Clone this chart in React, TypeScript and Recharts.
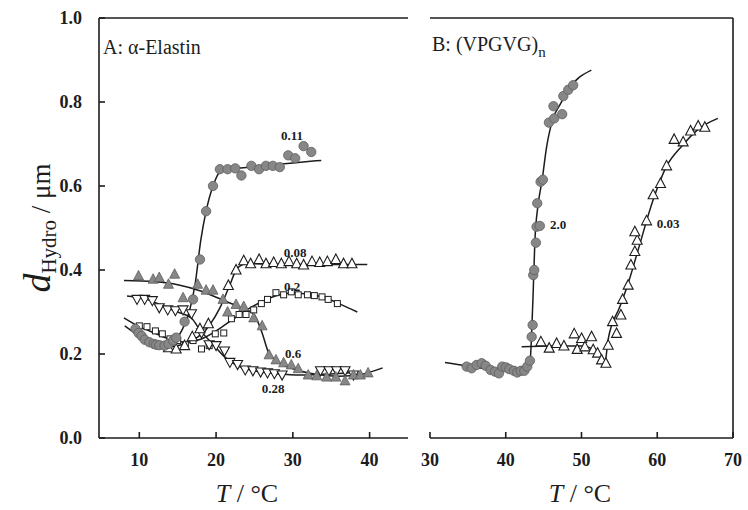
import { ScatterChart, Scatter, XAxis, YAxis } from "recharts";

type P = [number, number];

// Panel A: alpha-elastin, T (°C) vs d_Hydro (µm)
const circ011: P[] = [
  [9.5, 0.26], [9.9, 0.25], [10.3, 0.243], [10.7, 0.234], [11.3, 0.228], [11.9, 0.224],
  [12.2, 0.222], [12.6, 0.221], [13.3, 0.22], [13.8, 0.224], [14.4, 0.232], [14.8, 0.239],
  [15.9, 0.277], [17.0, 0.33], [17.9, 0.425], [18.7, 0.54], [19.6, 0.6], [20.5, 0.64],
  [21.5, 0.64], [22.5, 0.642], [23.3, 0.625], [24.6, 0.648], [25.6, 0.64], [26.5, 0.648],
  [27.4, 0.648], [28.3, 0.645], [29.4, 0.673], [30.3, 0.666], [31.4, 0.695], [32.4, 0.681],
];
const fit011: P[] = [
  [8.1, 0.267], [10, 0.243], [12.5, 0.22], [14.3, 0.225], [15.5, 0.255], [16.5, 0.3],
  [17.3, 0.37], [18.0, 0.47], [18.7, 0.54], [19.6, 0.6], [20.6, 0.635], [22, 0.64],
  [26, 0.648], [30, 0.655], [33.7, 0.661],
];

const tri008: P[] = [
  [13.8, 0.215], [14.8, 0.212], [15.9, 0.22], [16.9, 0.241], [17.9, 0.26], [19.0, 0.272],
  [21.6, 0.363], [22.6, 0.4], [23.6, 0.422], [24.5, 0.415], [25.6, 0.425], [26.5, 0.415],
  [27.5, 0.418], [28.5, 0.415], [29.5, 0.42], [30.5, 0.415], [31.4, 0.412], [32.5, 0.42],
  [33.5, 0.418], [34.5, 0.42], [35.6, 0.425], [36.6, 0.415], [37.7, 0.415],
];
const fit008: P[] = [
  [13.2, 0.215], [16, 0.225], [19.2, 0.27], [20.5, 0.31], [21.7, 0.36], [22.8, 0.405],
  [24, 0.415], [30, 0.413], [39.7, 0.413],
];

const sq02: P[] = [
  [10, 0.267], [11, 0.265], [12.1, 0.255], [13, 0.248], [14, 0.236], [15, 0.232],
  [16, 0.222], [17, 0.232], [18.1, 0.212], [19.1, 0.22], [19.9, 0.248], [21.0, 0.25],
  [22, 0.284], [23, 0.294], [23.9, 0.294], [24.9, 0.305], [25.9, 0.32], [26.7, 0.33],
  [27.8, 0.346], [28.8, 0.341], [29.8, 0.348], [30.7, 0.341], [31.9, 0.341], [32.8, 0.339],
  [33.8, 0.336], [34.6, 0.33], [35.8, 0.32],
];
const fit02: P[] = [
  [8, 0.286], [10, 0.265], [12, 0.25], [14, 0.235], [16, 0.228], [18, 0.235], [20, 0.255],
  [22, 0.28], [24, 0.305], [26, 0.325], [28, 0.34], [30, 0.345], [32, 0.342], [34, 0.335],
  [36, 0.32], [38.4, 0.3],
];

const triDn028: P[] = [
  [9.7, 0.33], [10.7, 0.33], [11.7, 0.327], [12.6, 0.31], [13.7, 0.305], [14.7, 0.303],
  [15.7, 0.305], [16.8, 0.296], [18.1, 0.25], [19.1, 0.222], [20.0, 0.22], [21.1, 0.207],
  [21.8, 0.18], [22.8, 0.175], [23.8, 0.162], [24.8, 0.16], [25.8, 0.157], [26.7, 0.155],
  [27.6, 0.153], [28.6, 0.15], [33.6, 0.16], [34.7, 0.16], [35.7, 0.16], [36.8, 0.16],
  [37.9, 0.15],
];
const fit028: P[] = [
  [8.4, 0.338], [11, 0.33], [13, 0.315], [15, 0.3], [16.8, 0.285], [18, 0.255],
  [19.5, 0.225], [21, 0.195], [22.5, 0.175], [25, 0.16], [28, 0.153], [31, 0.15],
  [34, 0.152], [37, 0.155], [38.5, 0.157],
];

const triFill06: P[] = [
  [9.9, 0.386], [11.8, 0.378], [12.6, 0.382], [13.8, 0.366], [14.6, 0.39], [15.7, 0.334],
  [17.6, 0.366], [18.7, 0.352], [19.6, 0.352], [20.9, 0.33], [21.5, 0.3], [22.6, 0.318],
  [23.6, 0.313], [24.9, 0.286], [26.0, 0.267], [26.9, 0.198], [27.8, 0.186], [28.8, 0.179],
  [29.8, 0.174], [30.7, 0.165], [32.0, 0.15], [33.1, 0.148], [34.4, 0.145], [35.6, 0.145],
  [36.8, 0.136], [37.9, 0.15], [38.8, 0.15], [39.8, 0.155],
];
const fit06: P[] = [
  [8, 0.375], [12, 0.372], [15, 0.365], [18, 0.35], [20.7, 0.33], [23, 0.312],
  [24.9, 0.295], [26, 0.25], [26.8, 0.205], [28, 0.182], [30, 0.165], [33, 0.152],
  [36, 0.147], [39, 0.152], [41.7, 0.167],
];

// Panel B: (VPGVG)n
const circ20: P[] = [
  [34.84, 0.17], [35.5, 0.166], [36.16, 0.174], [36.82, 0.178], [37.35, 0.172], [38.0, 0.162],
  [38.58, 0.158], [39.1, 0.154], [39.54, 0.17], [40.03, 0.168], [40.47, 0.164], [41.08, 0.16],
  [41.52, 0.156], [42.0, 0.16], [42.45, 0.16], [42.84, 0.17], [43.19, 0.184], [43.42, 0.241],
  [43.55, 0.269], [43.63, 0.388], [43.76, 0.4], [43.98, 0.465], [44.07, 0.503], [44.5, 0.505],
  [44.16, 0.559], [44.6, 0.61], [44.9, 0.615], [45.7, 0.751], [46.4, 0.761], [47.45, 0.771],
  [46.3, 0.79], [47.6, 0.814], [48.25, 0.829], [48.9, 0.84],
];
const fit20: P[] = [
  [31.98, 0.18], [34.84, 0.172], [39.2, 0.162], [42.1, 0.162], [43.2, 0.181], [43.4, 0.241],
  [43.63, 0.352], [43.85, 0.471], [44.3, 0.559], [44.8, 0.614], [45.4, 0.694], [45.83, 0.733],
  [46.27, 0.762], [47.15, 0.793], [48.25, 0.829], [51.3, 0.876],
];

const tri003: P[] = [
  [44.64, 0.229], [45.74, 0.214], [46.71, 0.225], [47.68, 0.219], [49.04, 0.248], [49.43, 0.211],
  [50.01, 0.237], [50.45, 0.217], [51.33, 0.241], [51.54, 0.21], [52.12, 0.202], [52.65, 0.186],
  [53.22, 0.178], [53.52, 0.221], [54.1, 0.277], [54.63, 0.249], [55.2, 0.293], [55.42, 0.33],
  [56.16, 0.364], [56.52, 0.412], [57.04, 0.444], [57.35, 0.471], [57.04, 0.491], [58.59, 0.517],
  [59.46, 0.579], [60.43, 0.606], [61.23, 0.648], [62.23, 0.711], [63.42, 0.705], [64.4, 0.731],
  [65.4, 0.743], [66.28, 0.74],
];
const fit003: P[] = [
  [42.1, 0.217], [46, 0.219], [50, 0.219], [52, 0.205], [53.1, 0.18], [53.5, 0.233],
  [55.07, 0.313], [56.16, 0.368], [57.48, 0.448], [59.46, 0.567], [61.2, 0.646], [63.2, 0.694],
  [65.4, 0.735], [68, 0.761],
];

const ticksA = [10, 20, 30, 40];
const ticksB = [30, 40, 50, 60, 70];
const ticksY = [0, 0.2, 0.4, 0.6, 0.8, 1.0];

const pts = (a: P[]) => a.map(([x, y]) => ({ x, y }));

const SERIF = "Liberation Serif";
const INK = "#1c1c1c";
const GREY = "#878787";
const tickFont = {
  fontSize: 18,
  fontWeight: 700,
  fill: INK,
  fontFamily: SERIF,
};
const fitLine = { stroke: INK, strokeWidth: 1.5 };
const axisLine = { stroke: INK, strokeWidth: 1.6 };

const Empty = () => <g />;
const Dot = (p: any) => (
  <circle cx={p.cx} cy={p.cy} r={4.7} fill={GREY} stroke="#5e5e5e" strokeWidth={0.8} />
);
const triPts = (cx: number, cy: number, down: boolean) =>
  down
    ? `${cx - 5},${cy - 4} ${cx + 5},${cy - 4} ${cx},${cy + 5}`
    : `${cx},${cy - 5.5} ${cx - 5},${cy + 4} ${cx + 5},${cy + 4}`;
const TriOpen = (p: any) => (
  <polygon points={triPts(p.cx, p.cy, false)} fill="#fff" stroke={INK} strokeWidth={1.1} />
);
const TriDown = (p: any) => (
  <polygon points={triPts(p.cx, p.cy, true)} fill="#fff" stroke={INK} strokeWidth={1.1} />
);
const TriFill = (p: any) => (
  <polygon points={triPts(p.cx, p.cy, false)} fill={GREY} stroke="#5e5e5e" strokeWidth={0.8} />
);
const Sq = (p: any) => (
  <rect x={p.cx - 3} y={p.cy - 3} width={6} height={6} fill="#fff" stroke={INK} strokeWidth={1} />
);

function PanelA() {
  return (
    <ScatterChart width={420} height={510} margin={{ top: 0, right: 12, bottom: 0, left: 0 }}>
      <XAxis
        xAxisId="top"
        orientation="top"
        type="number"
        dataKey="x"
        domain={[4.75, 45]}
        ticks={ticksA}
        height={18}
        tick={false}
        tickSize={-6}
        axisLine={axisLine}
        tickLine={axisLine}
      />
      <XAxis
        type="number"
        dataKey="x"
        domain={[4.75, 45]}
        ticks={ticksA}
        height={72}
        tickSize={-6}
        tickMargin={21}
        tick={tickFont}
        axisLine={axisLine}
        tickLine={axisLine}
      />
      <YAxis
        type="number"
        dataKey="y"
        domain={[0, 1]}
        ticks={ticksY}
        width={99}
        tickSize={-6}
        tickMargin={23}
        tickFormatter={(v: number) => v.toFixed(1)}
        tick={tickFont}
        axisLine={axisLine}
        tickLine={axisLine}
      />
      <Scatter data={pts(fit011)} line={fitLine} lineJointType="monotoneX" shape={Empty} isAnimationActive={false} />
      <Scatter data={pts(fit008)} line={fitLine} lineJointType="monotoneX" shape={Empty} isAnimationActive={false} />
      <Scatter data={pts(fit02)} line={fitLine} lineJointType="monotoneX" shape={Empty} isAnimationActive={false} />
      <Scatter data={pts(fit028)} line={fitLine} lineJointType="monotoneX" shape={Empty} isAnimationActive={false} />
      <Scatter data={pts(fit06)} line={fitLine} lineJointType="monotoneX" shape={Empty} isAnimationActive={false} />
      <Scatter data={pts(sq02)} shape={Sq} isAnimationActive={false} />
      <Scatter data={pts(triDn028)} shape={TriDown} isAnimationActive={false} />
      <Scatter data={pts(tri008)} shape={TriOpen} isAnimationActive={false} />
      <Scatter data={pts(triFill06)} shape={TriFill} isAnimationActive={false} />
      <Scatter data={pts(circ011)} shape={Dot} isAnimationActive={false} />
    </ScatterChart>
  );
}

function PanelB() {
  return (
    <ScatterChart width={328} height={510} margin={{ top: 0, right: 0, bottom: 0, left: 10 }}>
      <XAxis
        xAxisId="top"
        orientation="top"
        type="number"
        dataKey="x"
        domain={[30, 70]}
        ticks={ticksB}
        height={18}
        tick={false}
        tickSize={-6}
        axisLine={axisLine}
        tickLine={axisLine}
      />
      <XAxis
        type="number"
        dataKey="x"
        domain={[30, 70]}
        ticks={ticksB}
        height={72}
        tickSize={-6}
        tickMargin={21}
        tick={tickFont}
        axisLine={axisLine}
        tickLine={axisLine}
      />
      <YAxis
        orientation="right"
        type="number"
        dataKey="y"
        domain={[0, 1]}
        ticks={ticksY}
        width={15}
        tickSize={-6}
        tick={false}
        axisLine={axisLine}
        tickLine={axisLine}
      />
      <Scatter data={pts(fit20)} line={fitLine} lineJointType="monotoneX" shape={Empty} isAnimationActive={false} />
      <Scatter data={pts(fit003)} line={fitLine} lineJointType="monotoneX" shape={Empty} isAnimationActive={false} />
      <Scatter data={pts(tri003)} shape={TriOpen} isAnimationActive={false} />
      <Scatter data={pts(circ20)} shape={Dot} isAnimationActive={false} />
    </ScatterChart>
  );
}

const notes: { text: string; x: number; y: number }[] = [
  { text: "0.11", x: 292, y: 140 },
  { text: "0.08", x: 295, y: 257 },
  { text: "0.2", x: 292, y: 291 },
  { text: "0.6", x: 293, y: 358 },
  { text: "0.28", x: 273, y: 393 },
  { text: "2.0", x: 558, y: 229 },
  { text: "0.03", x: 668, y: 228 },
];

export default function App() {
  return (
    <div
      style={{
        position: "absolute",
        left: 0,
        top: 0,
        width: 748,
        height: 510,
        background: "#fff",
      }}
    >
      <div style={{ position: "absolute", left: 0, top: 0 }}>
        <PanelA />
      </div>
      <div style={{ position: "absolute", left: 420, top: 0 }}>
        <PanelB />
      </div>
      <svg
        width={748}
        height={510}
        style={{ position: "absolute", left: 0, top: 0, pointerEvents: "none" }}
        fill={INK}
        fontFamily={SERIF}
      >
        <text x={103} y={54} fontSize={20}>A: α-Elastin</text>
        <text x={432} y={51} fontSize={20}>
          B: (VPGVG)<tspan fontSize={15} dy={6}>n</tspan>
        </text>
        {notes.map((n) => (
          <text key={n.text + n.x} x={n.x} y={n.y} fontSize={13} fontWeight={700} textAnchor="middle">
            {n.text}
          </text>
        ))}
        <text x={247} y={502} fontSize={26} textAnchor="middle">
          <tspan fontStyle="italic">T</tspan> / °C
        </text>
        <text x={580} y={502} fontSize={26} textAnchor="middle">
          <tspan fontStyle="italic">T</tspan> / °C
        </text>
        <text transform="translate(50,228) rotate(-90)" textAnchor="middle">
          <tspan fontSize={38} fontStyle="italic">d</tspan>
          <tspan fontSize={21} dy={6}>Hydro</tspan>
          <tspan fontSize={27} dy={-6}> / μm</tspan>
        </text>
      </svg>
    </div>
  );
}
